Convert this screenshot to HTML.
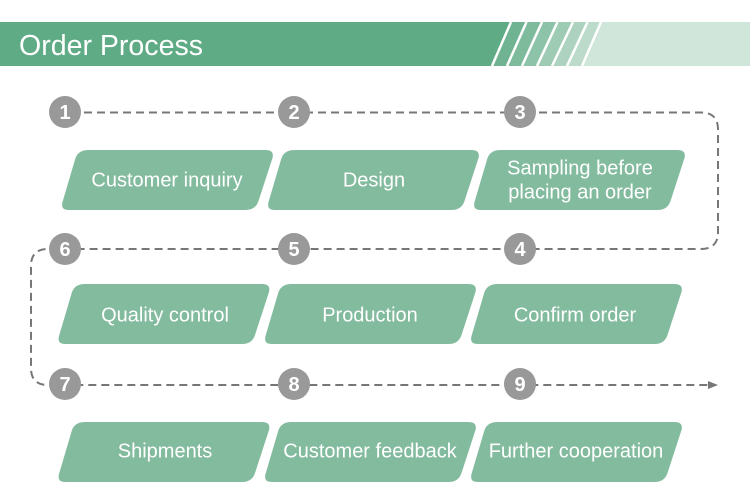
<!DOCTYPE html>
<html>
<head>
<meta charset="utf-8">
<style>
html,body{margin:0;padding:0;background:#fff}
svg{display:block}
text{font-family:"Liberation Sans",sans-serif}
.t{font-size:20px;fill:#fff;text-anchor:middle}
.n{font-size:20px;font-weight:bold;fill:#fff;text-anchor:middle}
.c{fill:#999}
.b{fill:#83bb9e}
.d{fill:none;stroke:#777;stroke-width:2;stroke-dasharray:8 5}
</style>
</head>
<body>
<svg width="750" height="503" viewBox="0 0 750 503" xmlns="http://www.w3.org/2000/svg">
<defs>
<path id="p" d="M19 0H203Q212 0 210 8L196 51Q193 60 183 60H6Q-2 60 0 52L13 8Q16 0 26 0Z"/>
</defs>
<rect x="0" y="22" width="750" height="44" fill="#d0e6da"/>
<polygon points="0,22 511,22 492,66 0,66" fill="#5fab85"/>
<polygon points="511,22 527,22 507,66 492,66" fill="#6fb392"/>
<polygon points="527,22 542,22 522,66 507,66" fill="#7ebb9d"/>
<polygon points="542,22 558,22 537,66 522,66" fill="#8dc3a8"/>
<polygon points="558,22 573,22 552,66 537,66" fill="#9dcbb4"/>
<polygon points="573,22 588,22 567,66 552,66" fill="#add3c0"/>
<polygon points="588,22 601,22 582,66 567,66" fill="#bcdbcb"/>
<g stroke="#fff" stroke-width="2.500">
<line x1="511" y1="22" x2="492" y2="66"/>
<line x1="526.500" y1="22" x2="507" y2="66"/>
<line x1="542" y1="22" x2="522" y2="66"/>
<line x1="557.500" y1="22" x2="537" y2="66"/>
<line x1="573" y1="22" x2="552" y2="66"/>
<line x1="587.500" y1="22" x2="567" y2="66"/>
<line x1="601" y1="22" x2="582" y2="66"/>
</g>
<text x="19" y="55" font-size="29" fill="#fff" textLength="184" lengthAdjust="spacingAndGlyphs">Order Process</text>

<path class="d" d="M84 112.500H701Q718 112.500 718 129.500V232Q718 249 701 249H48Q31 249 31 266V368Q31 385 48 385H708"/>
<polygon points="708,381 718,385 708,389" fill="#777"/>

<g class="b">
<use href="#p" x="62.500" y="150"/>
<use href="#p" x="268.500" y="150"/>
<use href="#p" x="474.500" y="150"/>
<use href="#p" x="59" y="284"/>
<use href="#p" x="265.500" y="284"/>
<use href="#p" x="471.500" y="284"/>
<use href="#p" x="59" y="422"/>
<use href="#p" x="265.500" y="422"/>
<use href="#p" x="471.500" y="422"/>
</g>

<text class="t" x="167" y="186.500">Customer inquiry</text>
<text class="t" x="374" y="186.500">Design</text>
<text class="t" x="580" y="174.500">Sampling before</text>
<text class="t" x="580" y="198.500">placing an order</text>
<text class="t" x="165" y="321.500">Quality control</text>
<text class="t" x="370" y="321.500">Production</text>
<text class="t" x="575" y="321.500">Confirm order</text>
<text class="t" x="165" y="457.500">Shipments</text>
<text class="t" x="370" y="457.500">Customer feedback</text>
<text class="t" x="576" y="457.500">Further cooperation</text>

<g class="c">
<circle cx="65" cy="112" r="16"/>
<circle cx="294" cy="112" r="16"/>
<circle cx="520" cy="112" r="16"/>
<circle cx="65" cy="249" r="16"/>
<circle cx="294" cy="249" r="16"/>
<circle cx="520" cy="249" r="16"/>
<circle cx="65" cy="384" r="16"/>
<circle cx="294" cy="384" r="16"/>
<circle cx="520" cy="384" r="16"/>
</g>
<text class="n" x="65" y="119">1</text>
<text class="n" x="294" y="119">2</text>
<text class="n" x="520" y="119">3</text>
<text class="n" x="65" y="256">6</text>
<text class="n" x="294" y="256">5</text>
<text class="n" x="520" y="256">4</text>
<text class="n" x="65" y="391">7</text>
<text class="n" x="294" y="391">8</text>
<text class="n" x="520" y="391">9</text>
</svg>
</body>
</html>
